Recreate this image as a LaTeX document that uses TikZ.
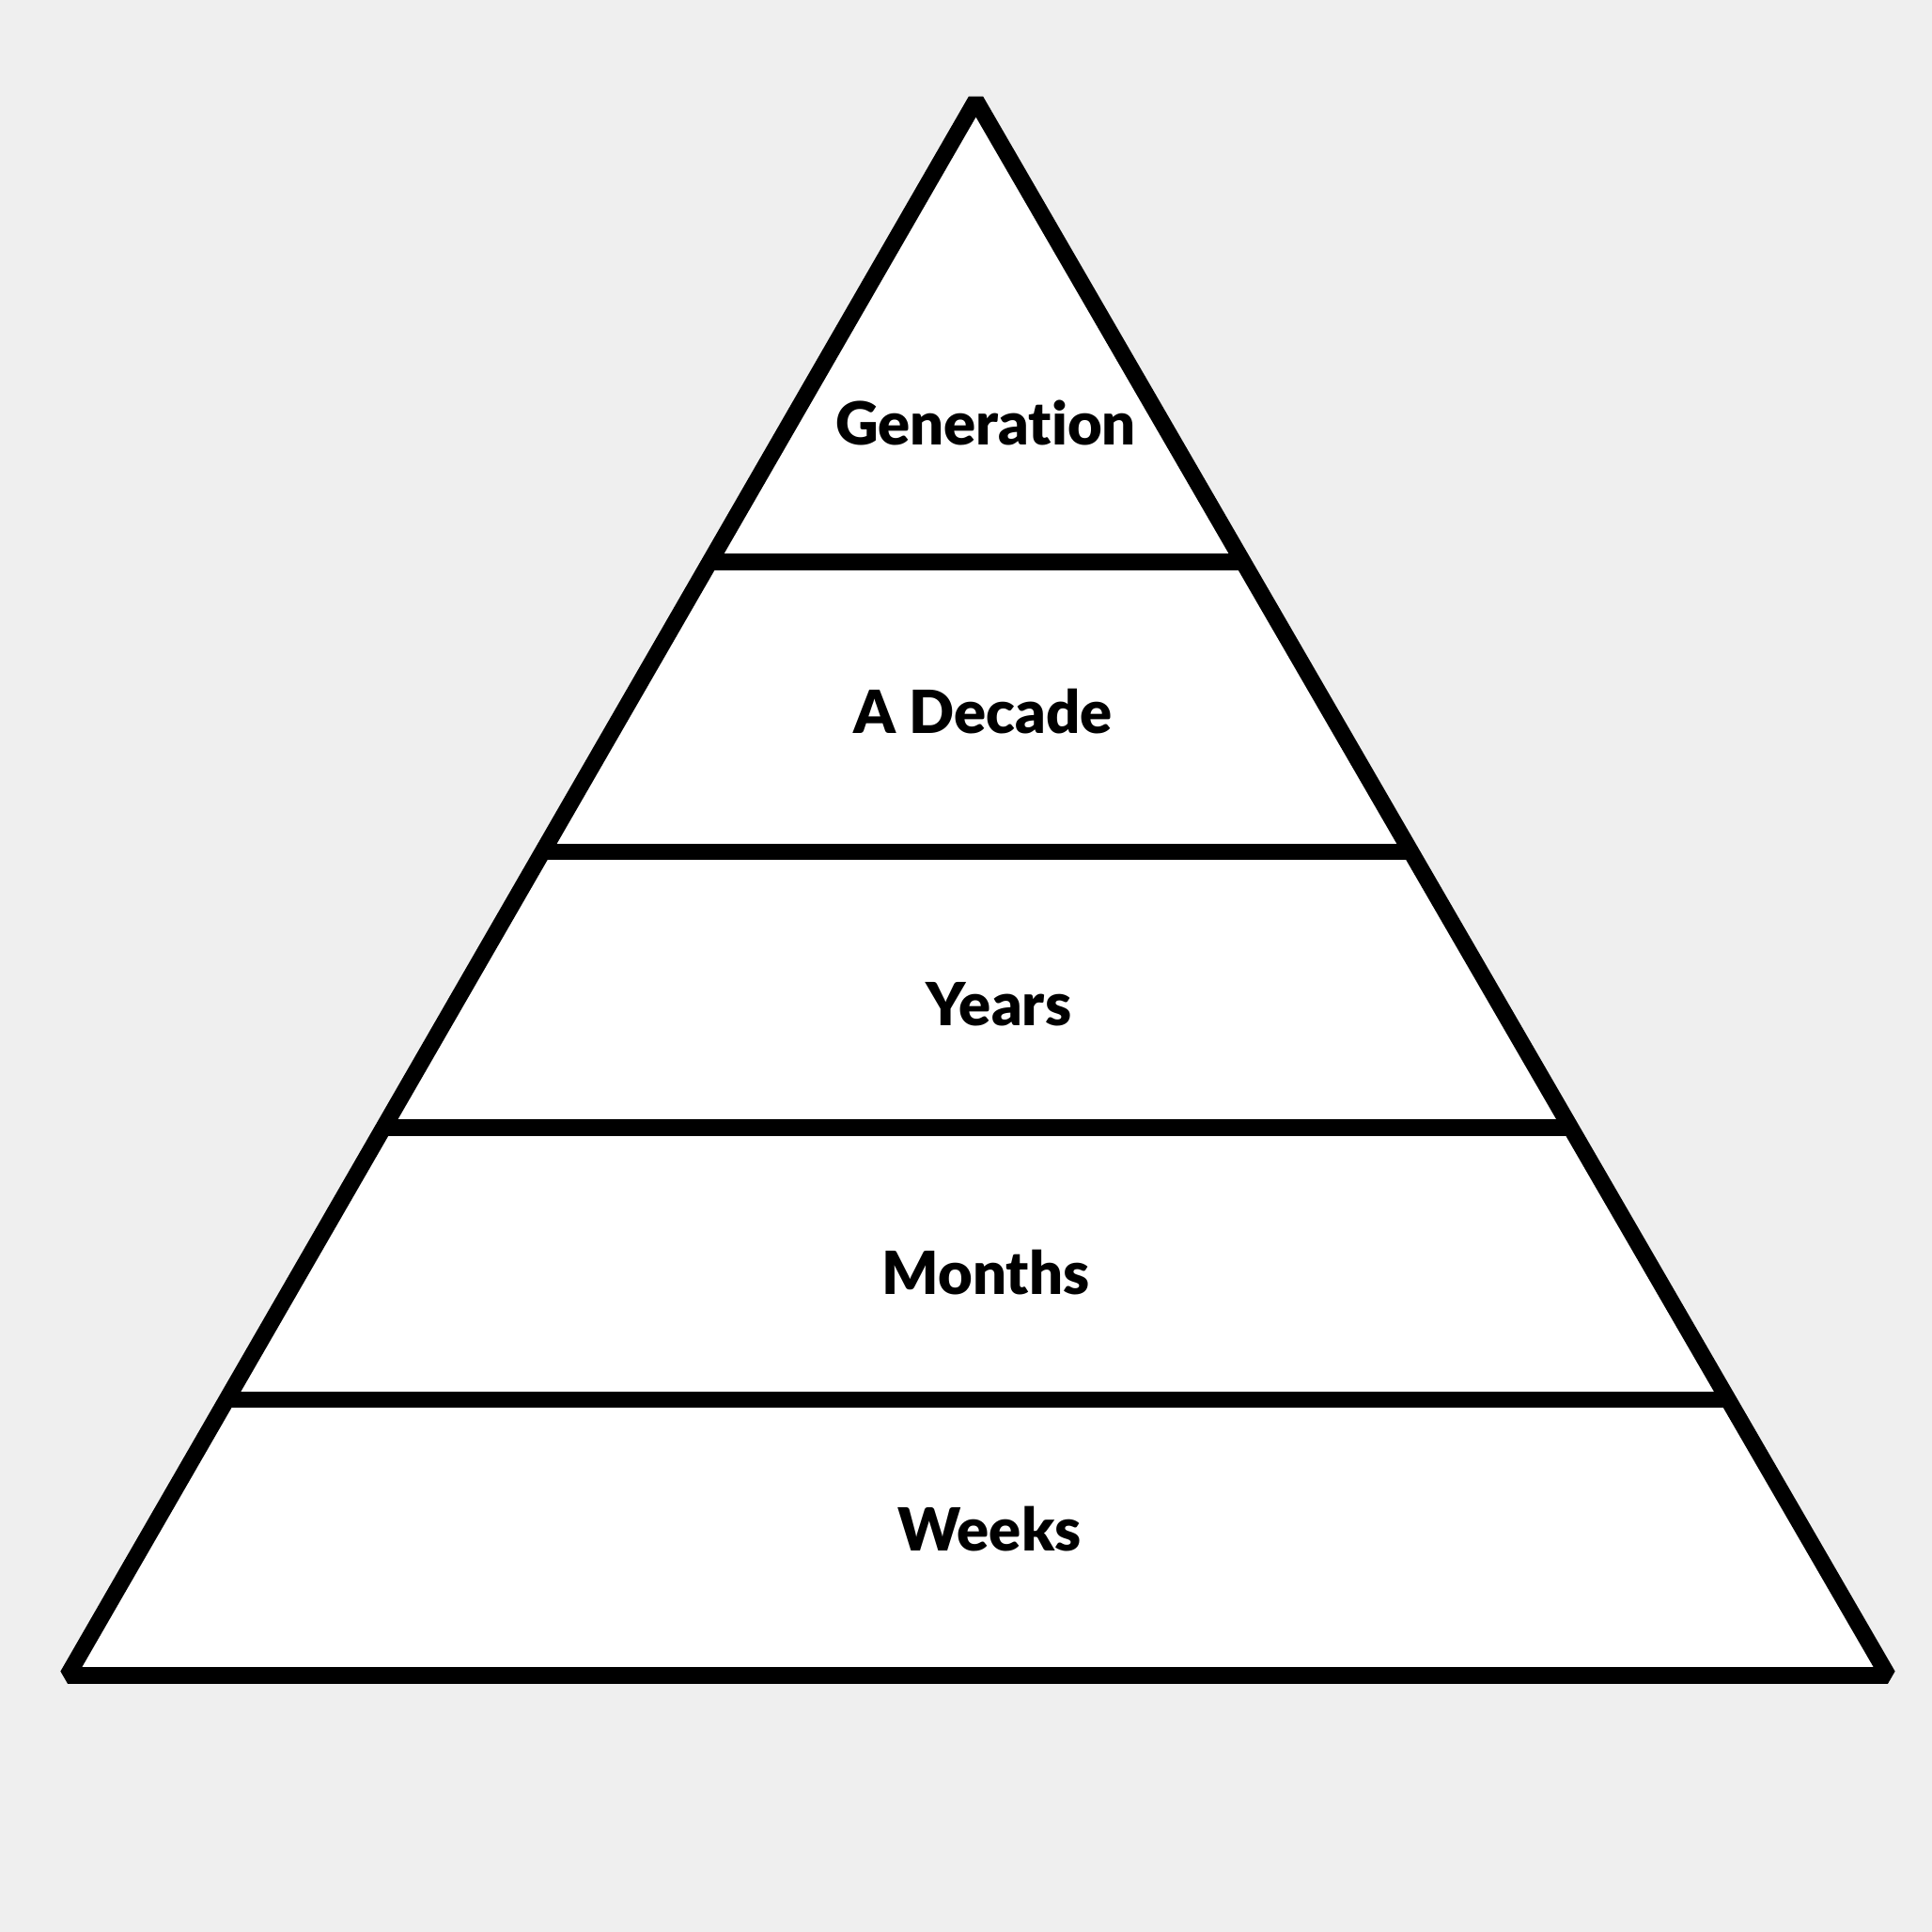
\documentclass[tikz,border=0pt]{standalone}
\usepackage{fontspec}
\setmainfont{Lato}[BoldFont={Lato Black},Ligatures=NoCommon]
\usetikzlibrary{calc}
\definecolor{bggray}{HTML}{EFEFEF}
\tikzset{
  edge/.style={line width=5pt,line join=bevel},
  layer/.style={font=\fontsize{18}{20}\selectfont\bfseries,inner sep=0pt}
}
\begin{document}
\begin{tikzpicture}
		%background
		\fill[bggray] (0,0) rectangle (20.56,20.56);
		%corners
		\coordinate (T) at (10.385,19.49);
		\coordinate (L) at (0.72,2.73);
		\coordinate (R) at (20.09,2.73);
		%triangle
		\filldraw[edge,fill=white] (L)--(T)--(R)--cycle;
		%layers
		\foreach \t/\n in {0.293/1,0.477/2,0.652/3,0.825/4}{
			\coordinate (L\n) at ($(T)!\t!(L)$);
			\coordinate (R\n) at ($(T)!\t!(R)$);
			\draw[edge] (L\n)--(R\n);
		}
		%labels
		\foreach \Pos/\Nom/\Texte in {(10.49,16.06)/gen/Generation,(10.46,12.99)/decade/A Decade,(10.63,9.87)/years/Years,(10.49,7.02)/months/Months,(10.53,4.29)/weeks/Weeks}%
		\node[layer] (\Nom) at \Pos {\Texte};
	\end{tikzpicture}
\end{document}
